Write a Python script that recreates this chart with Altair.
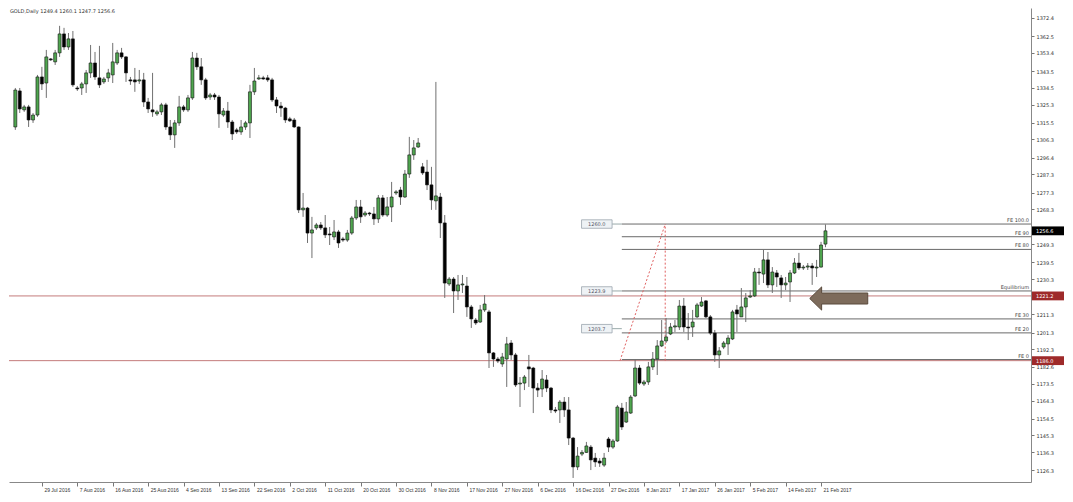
import altair as alt
import pandas as pd

# ---------------- data ----------------
opens = [1313.1,1332.7,1322.4,1324.0,1316.9,1319.6,1340.3,1337.0,1350.1,1348.5,
         1353.4,1363.7,1356.6,1361.0,1334.3,1334.3,1336.5,1342.5,1347.9,1339.8,
         1337.6,1339.8,1341.4,1347.9,1353.4,1351.2,1338.7,1338.7,1338.1,1338.7,
         1326.7,1322.4,1320.2,1321.3,1325.1,1313.1,1308.8,1315.3,1324.0,1322.4,
         1328.9,1350.6,1345.8,1338.7,1329.4,1330.5,1329.4,1319.6,1321.8,1315.8,
         1311.5,1310.4,1313.1,1315.3,1332.2,1339.2,1339.8,1339.8,1338.7,1327.8,
         1324.5,1323.4,1317.5,1316.9,1313.1,1268.0,1269.0,1255.4,1258.2,1259.8,
         1258.2,1254.9,1253.3,1256.0,1252.2,1251.6,1255.4,1263.6,1269.6,1265.2,
         1266.3,1265.8,1263.1,1274.5,1265.2,1269.6,1277.2,1278.8,1275.0,1287.5,
         1297.9,1302.2,1291.4,1288.6,1281.6,1272.9,1275.0,1260.9,1227.7,1230.4,
         1223.9,1227.2,1226.6,1215.2,1208.1,1207.0,1213.6,1212.5,1190.2,1186.9,
         1184.2,1186.9,1195.6,1189.1,1173.3,1173.8,1182.6,1182.0,1171.1,1170.6,
         1175.5,1171.1,1159.2,1159.2,1163.5,1159.2,1143.9,1128.2,1135.2,1136.1,
         1139.0,1133.0,1131.4,1129.2,1143.4,1139.0,1142.3,1160.2,1152.6,1157.5,
         1166.8,1182.0,1173.3,1174.4,1182.6,1186.9,1194.0,1196.7,1200.5,1204.3,
         1204.3,1215.7,1204.3,1204.3,1209.8,1215.7,1218.5,1209.8,1201.0,1189.1,
         1193.4,1195.1,1197.8,1213.6,1209.8,1215.2,1220.6,1221.2,1234.2,1233.1,
         1240.8,1227.2,1233.7,1231.0,1227.2,1228.8,1233.7,1239.1,1236.4,1236.9,
         1237.5,1236.4,1236.9,1249.4]
highs = [1334.3,1334.3,1325.1,1325.1,1320.7,1341.4,1345.8,1355.0,1350.6,1355.0,
         1368.1,1367.0,1364.2,1365.3,1335.4,1337.6,1344.1,1357.7,1353.9,1357.2,
         1340.3,1344.7,1358.8,1355.0,1356.1,1351.7,1340.3,1345.2,1344.1,1342.5,
         1328.9,1342.5,1322.4,1326.2,1326.2,1316.9,1316.9,1330.0,1325.1,1330.5,
         1353.9,1353.4,1350.6,1339.8,1331.6,1331.6,1330.5,1323.4,1326.7,1316.9,
         1312.6,1316.9,1316.4,1336.0,1345.2,1341.4,1340.9,1341.4,1339.8,1329.4,
         1326.7,1324.0,1318.6,1318.0,1313.4,1277.2,1269.6,1264.2,1260.9,1261.4,
         1265.2,1258.7,1262.5,1257.1,1253.3,1257.1,1264.7,1273.4,1273.4,1267.4,
         1266.9,1269.6,1276.1,1276.1,1275.0,1283.2,1278.8,1280.5,1289.7,1307.7,
         1306.0,1307.1,1293.5,1295.2,1291.4,1337.6,1277.2,1265.2,1231.5,1231.5,
         1232.6,1232.6,1231.5,1216.3,1209.2,1216.3,1221.7,1213.6,1190.7,1188.0,
         1190.2,1198.9,1197.2,1190.2,1177.1,1178.2,1189.1,1182.6,1173.8,1180.9,
         1178.2,1171.7,1160.8,1164.6,1166.2,1166.2,1144.5,1139.0,1137.4,1141.8,
         1140.1,1135.8,1133.0,1135.8,1144.5,1143.4,1161.9,1163.0,1163.5,1167.3,
         1186.4,1183.6,1175.5,1185.3,1190.7,1197.2,1208.1,1209.2,1206.5,1208.1,
         1219.0,1220.1,1211.9,1213.6,1217.4,1220.6,1219.0,1210.8,1202.7,1193.4,
         1196.7,1199.9,1213.6,1216.3,1225.5,1222.8,1224.4,1236.4,1236.4,1246.2,
         1245.1,1236.9,1235.3,1232.6,1231.5,1235.3,1241.8,1244.6,1238.0,1239.1,
         1239.1,1240.8,1250.6,1260.1]
lows = [1311.5,1320.7,1321.3,1313.1,1315.3,1318.6,1333.2,1328.9,1349.0,1346.8,
        1351.2,1355.0,1355.0,1334.9,1332.7,1330.5,1331.6,1339.8,1338.7,1334.3,
        1336.5,1337.6,1337.0,1346.8,1350.1,1337.6,1336.0,1332.2,1336.5,1324.0,
        1320.7,1318.6,1319.1,1319.6,1311.5,1306.0,1301.7,1313.7,1321.3,1321.3,
        1327.8,1344.1,1336.0,1327.8,1327.8,1327.8,1312.6,1318.6,1312.6,1306.0,
        1309.3,1308.8,1311.5,1307.1,1330.5,1338.7,1338.7,1337.6,1326.7,1320.7,
        1318.6,1315.3,1315.8,1312.6,1266.3,1264.2,1250.0,1241.8,1257.1,1257.1,
        1252.7,1248.9,1251.6,1247.3,1250.6,1250.6,1254.4,1262.5,1260.9,1264.2,
        1264.7,1259.8,1260.9,1264.2,1264.2,1261.4,1276.1,1270.7,1274.5,1285.4,
        1295.2,1301.7,1287.0,1278.8,1268.0,1268.0,1252.7,1220.1,1226.6,1211.9,
        1219.0,1222.8,1209.8,1203.8,1205.4,1206.5,1212.5,1182.0,1182.6,1184.7,
        1182.6,1171.7,1186.4,1171.7,1160.8,1170.0,1171.7,1157.5,1166.2,1166.2,
        1168.9,1157.5,1157.5,1152.1,1155.4,1140.1,1122.2,1126.5,1134.1,1135.8,
        1126.5,1128.2,1128.2,1128.2,1136.3,1138.0,1141.8,1148.3,1152.1,1157.0,
        1166.2,1172.8,1172.2,1172.8,1180.9,1178.2,1193.4,1195.6,1199.9,1201.6,
        1202.7,1201.6,1197.2,1198.9,1209.2,1215.2,1209.2,1199.9,1185.3,1182.0,
        1192.3,1189.1,1197.2,1201.6,1209.8,1207.0,1220.1,1220.6,1227.2,1228.2,
        1225.5,1222.8,1226.1,1220.1,1224.4,1217.9,1233.1,1235.3,1235.3,1235.3,
        1227.2,1231.5,1236.6,1247.7]
closes = [1333.2,1322.9,1324.0,1316.9,1319.6,1340.3,1336.5,1351.2,1349.6,1353.4,
          1363.7,1356.6,1361.0,1336.0,1333.8,1336.5,1342.5,1347.9,1340.3,1336.0,
          1339.2,1342.5,1348.5,1353.4,1351.2,1342.5,1338.1,1337.6,1338.7,1326.7,
          1322.9,1321.3,1321.3,1325.1,1313.1,1308.8,1315.3,1324.0,1322.4,1328.9,
          1350.6,1345.8,1338.7,1328.9,1330.5,1329.4,1320.2,1321.8,1315.8,1309.3,
          1310.4,1313.1,1315.3,1332.2,1338.1,1339.8,1339.2,1338.7,1327.8,1324.5,
          1323.4,1316.9,1316.4,1313.1,1268.0,1269.0,1255.4,1257.1,1259.8,1258.2,
          1254.4,1254.4,1256.0,1250.0,1251.6,1255.4,1263.6,1269.6,1264.2,1266.3,
          1265.8,1263.1,1274.5,1265.2,1269.6,1275.0,1277.8,1275.0,1287.5,1297.9,
          1301.7,1304.4,1288.1,1281.6,1273.4,1275.6,1260.9,1228.2,1230.4,1223.9,
          1227.2,1227.7,1215.2,1208.7,1206.5,1213.6,1216.8,1190.2,1186.9,1185.8,
          1188.0,1195.1,1189.1,1172.8,1173.8,1177.1,1181.5,1171.1,1170.0,1176.0,
          1171.1,1159.2,1158.6,1163.5,1159.2,1143.9,1128.2,1134.1,1136.1,1139.6,
          1132.0,1130.9,1130.3,1133.0,1139.0,1142.3,1160.8,1149.9,1158.1,1166.2,
          1182.0,1173.8,1174.4,1182.6,1186.9,1194.0,1196.7,1198.9,1204.3,1204.9,
          1215.7,1204.3,1203.8,1207.0,1216.3,1217.9,1209.8,1201.0,1189.1,1191.3,
          1195.6,1198.3,1212.5,1211.4,1215.2,1220.1,1221.2,1234.2,1233.7,1240.8,
          1227.2,1234.2,1231.5,1227.2,1228.2,1233.7,1239.1,1236.4,1236.9,1237.5,
          1236.4,1236.9,1248.9,1256.6]

x_tick_bars = [7, 15, 23, 31, 39, 47, 55, 63, 71, 79, 87, 95, 103, 111, 119,
               127, 135, 143, 151, 159, 167, 175, 183]
x_tick_labels = ["29 Jul 2016", "7 Aug 2016", "16 Aug 2016", "25 Aug 2016",
                 "4 Sep 2016", "13 Sep 2016", "22 Sep 2016", "2 Oct 2016",
                 "11 Oct 2016", "20 Oct 2016", "30 Oct 2016", "8 Nov 2016",
                 "17 Nov 2016", "27 Nov 2016", "6 Dec 2016", "16 Dec 2016",
                 "27 Dec 2016", "8 Jan 2017", "17 Jan 2017", "26 Jan 2017",
                 "5 Feb 2017", "14 Feb 2017", "21 Feb 2017"]
# price-axis labels (the ones hidden under the price tags are left out)
y_tick_values = [1372.4, 1362.5, 1353.4, 1343.5, 1334.5, 1325.3, 1315.5, 1306.3,
                 1296.4, 1287.3, 1277.3, 1268.3, 1249.3, 1239.5, 1230.3,
                 1211.3, 1201.3, 1192.3, 1182.6, 1173.5, 1164.3, 1154.5,
                 1145.3, 1136.3, 1126.3]

title_text = "GOLD,Daily  1249.4 1260.1 1247.7 1256.6"

# Fibonacci expansion levels (drawn from bar 138 to the right edge)
fe_levels = [1260.3, 1253.4, 1246.5, 1223.9, 1208.7, 1201.1, 1186.6]
fe_labels = ["FE 100.0", "FE 90", "FE 80", "Equilibrium", "FE 30", "FE 20", "FE 0"]
fe_start_bar = 138

red_levels = [1221.2, 1186.0]

last_tag_price = [1256.6]
last_tag_text = ["1256.6"]
red_tag_price = [1221.2, 1186.0]
red_tag_text = ["1221.2", "1186.0"]

left_box_levels = [1260.3, 1223.9, 1203.4]
left_box_text = ["1260.0", "1223.9", "1203.7"]
left_box_bars = [128.9, 135.8]

dotted_x = [137.6, 147.8]
dotted_y = [1186.0, 1260.3]

arrow_bar = 187.0
arrow_price = 1219.8

# ---------------- chart ----------------
W, H = 1022, 474
xs = alt.Scale(domain=[0.7, 229.3], nice=False, zero=False)
ys = alt.Scale(domain=[1120.0, 1377.8], nice=False, zero=False)

label_expr = ("[" + ",".join("'%s'" % s for s in x_tick_labels) + "][indexof(["
              + ",".join(str(v) for v in x_tick_bars) + "], datum.value)]")
x_axis = alt.Axis(values=x_tick_bars, labelExpr=label_expr, title=None, grid=False,
                  labelAlign="left", labelOffset=2, labelPadding=1, labelFontSize=5,
                  labelFont="Liberation Sans", labelColor="#333", tickSize=4,
                  tickColor="#777", domainColor="#888", labelOverlap=False,
                  labelBound=False, labelFlush=False)
y_axis = alt.Axis(orient="right", values=y_tick_values, format=".1f", title=None,
                  grid=False, labelFontSize=5, labelFont="DejaVu Sans",
                  labelColor="#333", tickSize=3, tickColor="#777", labelPadding=2,
                  domainColor="#888", labelOverlap=False, labelBound=False,
                  labelFlush=False)

candles = pd.DataFrame({"bar": list(range(1, len(opens) + 1)), "open": opens,
                        "high": highs, "low": lows, "close": closes})
up = candles[candles["close"] >= candles["open"]]
down = candles[candles["close"] < candles["open"]]

X = lambda f: alt.X(f, scale=xs, axis=x_axis)
Y = lambda f: alt.Y(f, scale=ys, axis=y_axis)

red_df = pd.DataFrame({"level": red_levels})
red_lines = alt.Chart(red_df).mark_rule(color="#c47c7c", strokeWidth=1).encode(
    y=Y("level:Q"), x=alt.value(0), x2=alt.value(W))

fe_df = pd.DataFrame({"level": fe_levels, "label": fe_labels,
                      "start": [fe_start_bar] * len(fe_levels)})
fe_lines = alt.Chart(fe_df).mark_rule(color="#6a6a6a", strokeWidth=1).encode(
    x=X("start:Q"), x2=alt.value(W), y=Y("level:Q"))
fe_text = alt.Chart(fe_df).mark_text(align="right", baseline="bottom", dy=-1,
                                     fontSize=5, font="DejaVu Sans",
                                     color="#444").encode(
    x=alt.value(W - 2), y=Y("level:Q"), text="label:N")

lb_df = pd.DataFrame({"level": left_box_levels, "text": left_box_text,
                      "x0": [left_box_bars[0]] * 3, "x1": [left_box_bars[1]] * 3})
lb_df["lo"] = lb_df["level"] - 2.3
lb_df["hi"] = lb_df["level"] + 2.3
lb_df["link"] = [fe_start_bar] * 3
lb_df["mid"] = (lb_df["x0"] + lb_df["x1"]) / 2
left_links = alt.Chart(lb_df).mark_rule(color="#9aa", strokeWidth=1).encode(
    x=X("x1:Q"), x2="link:Q", y=Y("level:Q"))
left_boxes = alt.Chart(lb_df).mark_rect(fill="#eef2f5", stroke="#9aa4ad",
                                        strokeWidth=0.8).encode(
    x=X("x0:Q"), x2="x1:Q", y=Y("lo:Q"), y2="hi:Q")
left_text = alt.Chart(lb_df).mark_text(align="center", baseline="middle",
                                       fontSize=5, font="DejaVu Sans",
                                       color="#556").encode(
    x=X("mid:Q"), y=Y("level:Q"), text="text:N")

dot_df = pd.DataFrame({"x": dotted_x, "y": dotted_y})
dotted_diag = alt.Chart(dot_df).mark_line(color="#e06060", strokeDash=[2, 2],
                                          strokeWidth=1).encode(
    x=X("x:Q"), y=Y("y:Q"))
vert_df = pd.DataFrame({"x": [dotted_x[1]], "y0": [dotted_y[0]], "y1": [dotted_y[1]]})
dotted_vert = alt.Chart(vert_df).mark_rule(color="#e06060", strokeDash=[2, 2],
                                           strokeWidth=1).encode(
    x=X("x:Q"), y=Y("y0:Q"), y2="y1:Q")

wicks = alt.Chart(candles).mark_rule(color="#707070", strokeWidth=1).encode(
    x=X("bar:Q"), y=Y("low:Q"), y2="high:Q")
bodies_up = alt.Chart(up).mark_bar(size=3, color="#4fa64f", stroke="#111",
                                   strokeWidth=0.6).encode(
    x=X("bar:Q"), y=Y("open:Q"), y2="close:Q")
bodies_down = alt.Chart(down).mark_bar(size=3, color="#000000", stroke="#111",
                                       strokeWidth=0.6).encode(
    x=X("bar:Q"), y=Y("open:Q"), y2="close:Q")

arrow_df = pd.DataFrame({"x": [arrow_bar], "y": [arrow_price]})
arrow = alt.Chart(arrow_df).mark_point(
    shape="M -1 0 L -0.59 -0.4 L -0.59 -0.19 L 1 -0.19 L 1 0.19 L -0.59 0.19 L -0.59 0.4 Z",
    size=3364, filled=True, fill="#7d6b5b", stroke="#5a4a3c", strokeWidth=1,
    opacity=1).encode(x=X("x:Q"), y=Y("y:Q"))


def tags(prices, texts, fill):
    d = pd.DataFrame({"price": prices, "text": texts})
    d["lo"] = d["price"] - 2.4
    d["hi"] = d["price"] + 2.4
    box = alt.Chart(d).mark_rect(color=fill).encode(
        x=alt.value(W + 1), x2=alt.value(W + 33), y=Y("lo:Q"), y2="hi:Q")
    txt = alt.Chart(d).mark_text(align="left", baseline="middle", fontSize=5,
                                 font="DejaVu Sans", color="white").encode(
        x=alt.value(W + 5), y=Y("price:Q"), text="text:N")
    return box + txt


last_tag = tags(last_tag_price, last_tag_text, "#000000")
red_tags = tags(red_tag_price, red_tag_text, "#9e2a2a")

title_mark = alt.Chart(pd.DataFrame({"t": [title_text]})).mark_text(
    align="left", baseline="top", fontSize=5, font="DejaVu Sans",
    color="#333").encode(x=alt.value(1), y=alt.value(1), text="t:N")

chart = alt.layer(
    red_lines, fe_lines, fe_text, left_links, left_boxes, left_text,
    dotted_diag, dotted_vert, wicks, bodies_up, bodies_down, arrow,
    last_tag, red_tags, title_mark
).properties(width=W, height=H, padding=0, background="white").configure_view(
    stroke=None)

chart.save("out.html", embed_options={"renderer": "svg", "actions": False})
